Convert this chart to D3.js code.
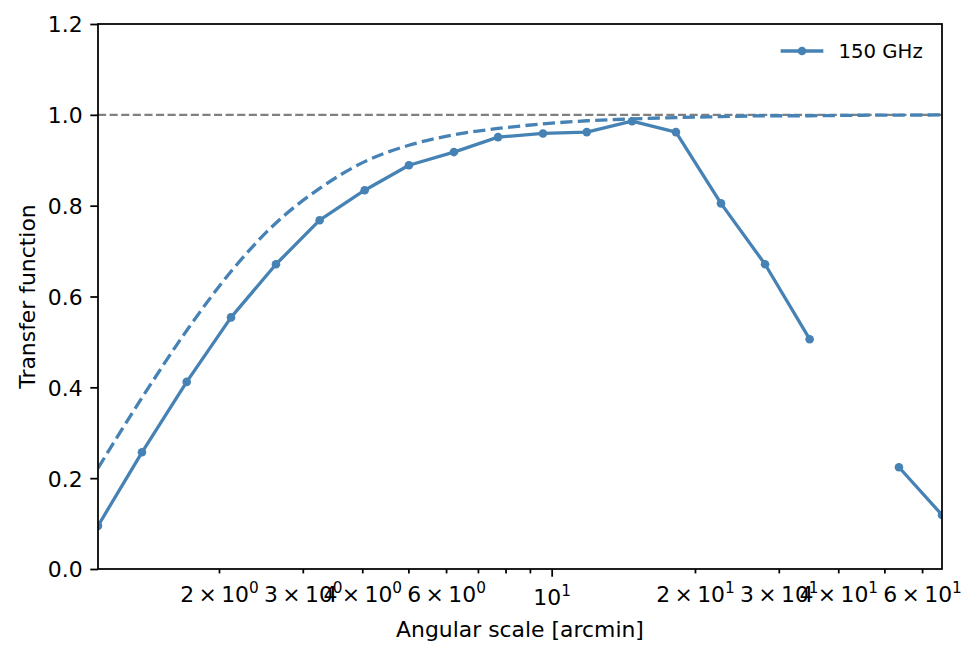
<!DOCTYPE html>
<html lang="en">
<head>
<meta charset="UTF-8">
<title>Transfer function</title>
<script src="https://cdn.jsdelivr.net/npm/d3@7"></script>
<style>
    body { margin: 0; padding: 0; background: #fff; }
    svg { display: block; font-family: "DejaVu Sans", sans-serif; }
</style>
</head>
<body>
<div id="chart"></div>
<script>
// angular scale of each bin [arcmin]
const angScale = [1.114, 1.378, 1.711, 2.120, 2.635, 3.255, 4.047, 5.013, 6.232, 7.715,
                  9.588, 11.85, 14.75, 18.24, 22.68, 28.07, 34.83, 43.2, 53.65, 66.07];
// measured transfer function, 150 GHz (null = missing bin)
const tf150 = [0.095, 0.257, 0.412, 0.554, 0.671, 0.768, 0.834, 0.889, 0.918, 0.951,
               0.959, 0.962, 0.986, 0.962, 0.805, 0.671, 0.506, null, 0.224, 0.119];
// dashed reference curve
const model = [0.222, 0.377, 0.525, 0.655, 0.762, 0.838, 0.897, 0.933, 0.956, 0.970,
               0.980, 0.987, 0.991, 0.994, 0.996, 0.998, 0.998, 0.999, 0.9995, 0.9997];

const yTicks = [0, 0.2, 0.4, 0.6, 0.8, 1.0, 1.2];
const xMajor = [10];
const xMinor = [2, 3, 4, 5, 6, 7, 8, 9, 20, 30, 40, 50, 60];
const xMinorLabelled = [2, 3, 4, 6, 20, 30, 40, 60];
const seriesName = "150 GHz";

const W = 978, H = 658;
const axL = 98, axR = 942, axT = 24, axB = 569;
const color = "#4682b4";
const fs = 21.9;      // labels + ticks
const fsLegend = 19.7;
const lw = 3.3;

const svg = d3.select("#chart").append("svg")
    .attr("width", W).attr("height", H);

const x = d3.scaleLog()
    .domain([angScale[0], angScale[angScale.length - 1]])
    .range([axL, axR]);
const y = d3.scaleLinear().domain([0, 1.2]).range([axB, axT]);

svg.append("defs").append("clipPath").attr("id", "clip")
    .append("rect")
    .attr("x", axL).attr("y", axT)
    .attr("width", axR - axL).attr("height", axB - axT);

const plot = svg.append("g").attr("clip-path", "url(#clip)");

// unity reference
plot.append("line")
    .attr("x1", axL).attr("x2", axR)
    .attr("y1", y(1)).attr("y2", y(1))
    .attr("stroke", "#808080").attr("stroke-width", 2.2)
    .attr("stroke-dasharray", "8.1,3.5");

const pts = angScale.map((a, i) => ({ a: a, v: tf150[i], m: model[i] }));

plot.append("path")
    .datum(pts)
    .attr("fill", "none")
    .attr("stroke", color)
    .attr("stroke-width", lw)
    .attr("stroke-dasharray", "12.2,5.3")
    .attr("d", d3.line().x(d => x(d.a)).y(d => y(d.m)).curve(d3.curveMonotoneX));

plot.append("path")
    .datum(pts)
    .attr("fill", "none")
    .attr("stroke", color)
    .attr("stroke-width", lw)
    .attr("stroke-linejoin", "round")
    .attr("d", d3.line().defined(d => d.v != null).x(d => x(d.a)).y(d => y(d.v)));

plot.selectAll("circle.pt")
    .data(pts.filter(d => d.v != null))
    .enter().append("circle")
    .attr("class", "pt")
    .attr("cx", d => x(d.a)).attr("cy", d => y(d.v))
    .attr("r", 4.3).attr("fill", color);

// axes
const yAxis = d3.axisLeft(y).tickValues(yTicks).tickSize(7.7).tickPadding(7.7)
    .tickFormat(d3.format(".1f"));
const gy = svg.append("g").attr("transform", `translate(${axL},0)`).call(yAxis);

const gxMajor = svg.append("g").attr("transform", `translate(0,${axB})`)
    .call(d3.axisBottom(x).tickValues(xMajor).tickSize(7.7).tickPadding(7.7));
const gxMinor = svg.append("g").attr("transform", `translate(0,${axB})`)
    .call(d3.axisBottom(x).tickValues(xMinor).tickSize(4.4).tickPadding(7.7));

[gy, gxMajor, gxMinor].forEach(g => {
    g.select(".domain").remove();
    g.selectAll(".tick line").attr("stroke", "#000").attr("stroke-width", 1.76);
    g.selectAll("text").attr("fill", "#000").attr("font-size", fs)
        .attr("font-family", "DejaVu Sans");
});
gy.selectAll("text").attr("dy", "0.36em");

// "m × 10^e" like matplotlib mathtext
function sciLabel(sel, d) {
    const e = Math.floor(Math.log10(d) + 1e-9);
    const m = Math.round(d / Math.pow(10, e));
    sel.text(null);
    sel.append("tspan").text(m === 1 ? "10" : `${m}\u2009\u00d7\u200910`);
    sel.append("tspan").attr("font-size", fs * 0.7).attr("dy", -8.5).text(e);
}
gxMajor.selectAll(".tick text").attr("dy", null).attr("y", 35.5)
    .each(function (d) { sciLabel(d3.select(this), d); });
gxMinor.selectAll(".tick text").attr("dy", null).attr("y", 32.5)
    .each(function (d) {
        if (xMinorLabelled.includes(d)) sciLabel(d3.select(this), d);
        else d3.select(this).remove();
    });

// frame
svg.append("rect")
    .attr("x", axL).attr("y", axT)
    .attr("width", axR - axL).attr("height", axB - axT)
    .attr("fill", "none").attr("stroke", "#000").attr("stroke-width", 1.76);

// axis labels
svg.append("text")
    .attr("x", (axL + axR) / 2).attr("y", 637)
    .attr("text-anchor", "middle").attr("font-size", fs)
    .text("Angular scale [arcmin]");
svg.append("text")
    .attr("transform", `translate(35,${(axT + axB) / 2}) rotate(-90)`)
    .attr("text-anchor", "middle").attr("font-size", fs)
    .text("Transfer function");

// legend
const lg = svg.append("g");
lg.append("line").attr("x1", 782.3).attr("x2", 821.7).attr("y1", 51).attr("y2", 51)
    .attr("stroke", color).attr("stroke-width", lw).attr("stroke-linecap", "square");
lg.append("circle").attr("cx", 802).attr("cy", 51).attr("r", 4.3).attr("fill", color);
lg.append("text").attr("x", 838.5).attr("y", 57.5).attr("font-size", fsLegend).text(seriesName);
</script>
</body>
</html>
